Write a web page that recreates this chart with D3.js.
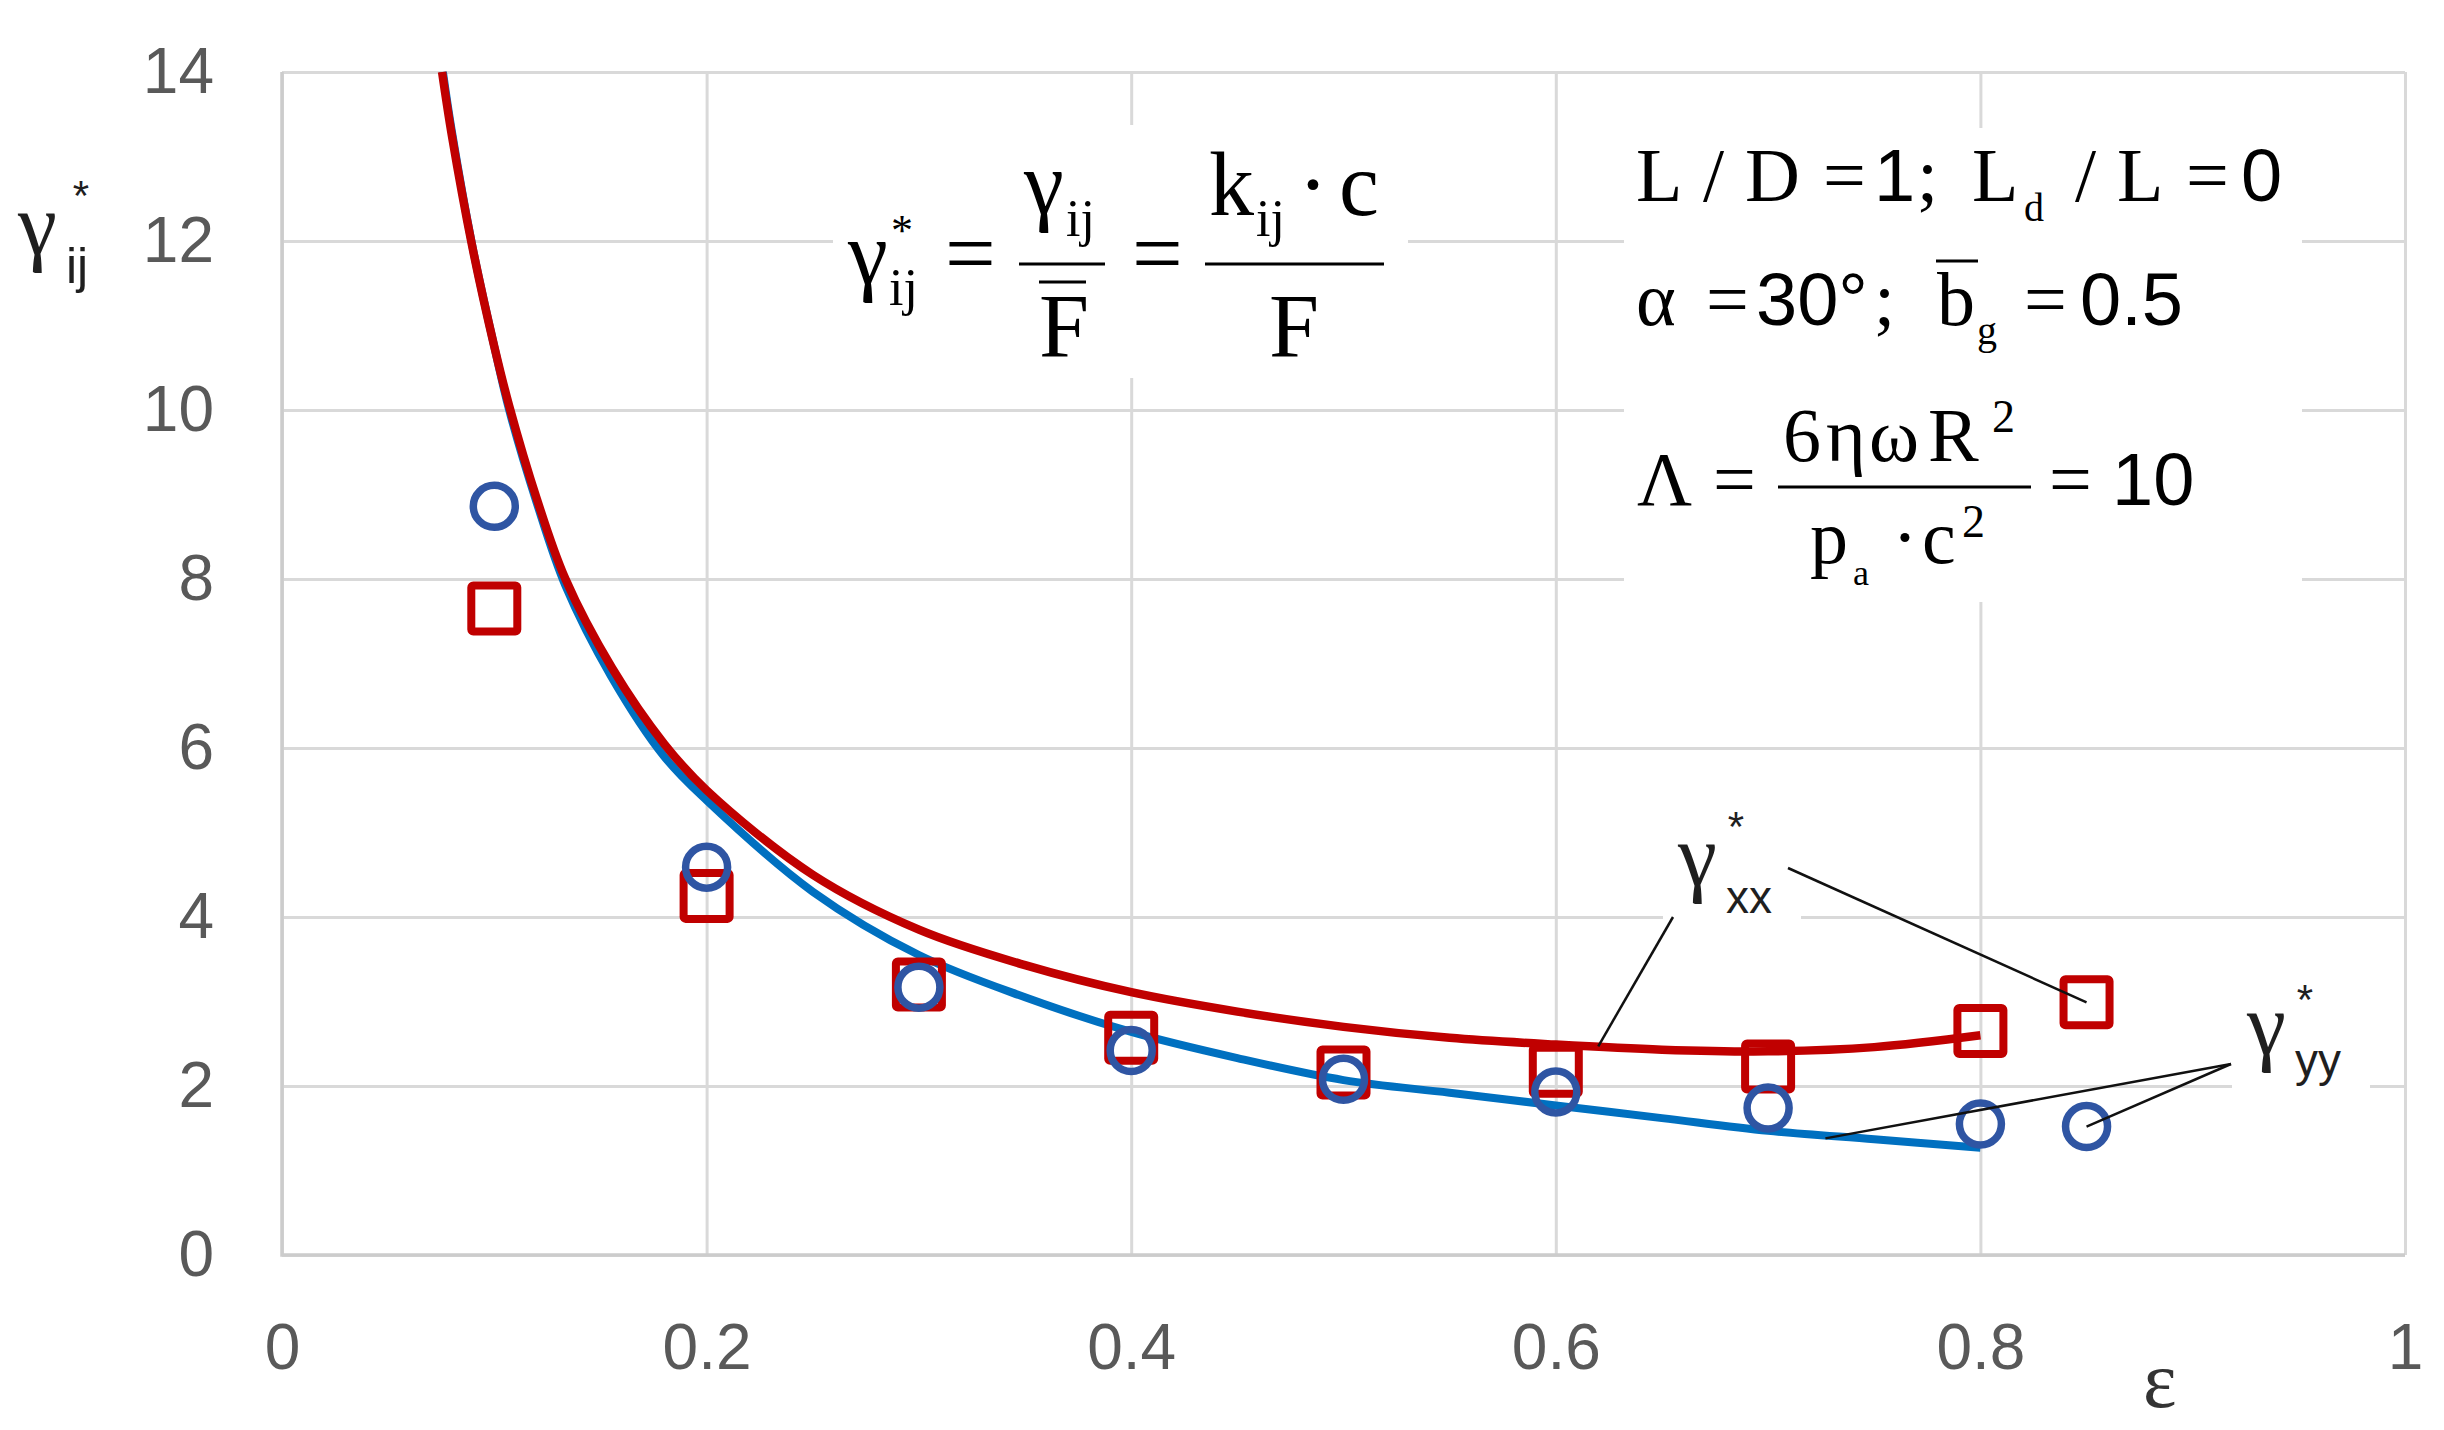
<!DOCTYPE html>
<html>
<head>
<meta charset="utf-8">
<script src="https://cdn.jsdelivr.net/npm/d3@7"></script>
<style>
  body { margin: 0; background: #fff; }
  svg { display: block; }
</style>
</head>
<body>
<script>
var width = 2444,
    height = 1430,
    margin = {top: 72, right: 39, bottom: 175, left: 282};

// axis ticks
var xTicks = [0, 0.2, 0.4, 0.6, 0.8, 1];
var yTicks = [0, 2, 4, 6, 8, 10, 12, 14];

// experiment points
var epsExp = [0.1, 0.2, 0.3, 0.4, 0.5, 0.6, 0.7, 0.8, 0.85];
var gxxExp = [7.65, 4.25, 3.2, 2.57, 2.16, 2.18, 2.23, 2.65, 2.99];
var gyyExp = [8.86, 4.59, 3.17, 2.42, 2.08, 1.93, 1.74, 1.55, 1.52];

// calculated curves
var epsXX = [0.0754, 0.08, 0.0895, 0.1, 0.107, 0.12, 0.1335, 0.1554, 0.18, 0.2, 0.25, 0.3,
             0.35, 0.4, 0.45, 0.5, 0.55, 0.6, 0.65, 0.7, 0.75, 0.8];
var gxxCalc = [14, 13.25, 11.95, 10.75, 10.05, 8.95, 8.0, 6.95, 6.05, 5.5, 4.5, 3.85,
               3.43, 3.11, 2.88, 2.70, 2.57, 2.49, 2.43, 2.41, 2.46, 2.6];
var epsYY = [0.0758, 0.08, 0.09, 0.1, 0.107, 0.12, 0.1335, 0.155, 0.18, 0.2, 0.25, 0.3,
             0.35, 0.4, 0.45, 0.5, 0.55, 0.6, 0.65, 0.7, 0.75, 0.8];
var gyyCalc = [14, 13.3, 11.9, 10.75, 10.0, 8.9, 7.92, 6.85, 5.9, 5.38, 4.3, 3.55,
               3.05, 2.64, 2.33, 2.07, 1.92, 1.77, 1.62, 1.47, 1.37, 1.27];

var RED = "#c00000", BLUE = "#0070c0", CIRC = "#2f55a3", GRID = "#d9d9d9";
var SERIF = "'Liberation Serif', 'Times New Roman', serif",
    SANS = "'Liberation Sans', Arial, sans-serif";

var svg = d3.select("body")
  .append("svg")
  .attr("width", width)
  .attr("height", height);

svg.append("rect").attr("width", width).attr("height", height).attr("fill", "#fff");

var x = d3.scaleLinear().domain([0, 1]).range([margin.left, width - margin.right]);
var y = d3.scaleLinear().domain([0, 14]).range([height - margin.bottom, margin.top]);
var plotW = width - margin.left - margin.right,
    plotH = height - margin.top - margin.bottom;

// grid + tick labels
var gx = svg.append("g")
  .attr("transform", "translate(0," + (height - margin.bottom) + ")")
  .call(d3.axisBottom(x).tickValues(xTicks).tickSize(-plotH).tickPadding(69)
    .tickFormat(function(d) { return String(d); }));
var gy = svg.append("g")
  .attr("transform", "translate(" + margin.left + ",0)")
  .call(d3.axisLeft(y).tickValues(yTicks).tickSize(-plotW).tickPadding(68)
    .tickFormat(function(d) { return String(d); }));

[gx, gy].forEach(function(g) {
  g.select(".domain").remove();
  g.selectAll(".tick line").attr("stroke", GRID).attr("stroke-width", 3);
  g.selectAll(".tick text")
    .attr("fill", "#595959")
    .attr("font-family", SANS)
    .attr("font-size", 64);
});

// plot border (left + bottom axis lines)
svg.append("path")
  .attr("d", "M" + x(0) + "," + y(14) + "V" + y(0) + "H" + x(1))
  .attr("fill", "none")
  .attr("stroke", "#cccccc")
  .attr("stroke-width", 3.5);

// curves
var line = d3.line()
  .x(function(d) { return x(d[0]); })
  .y(function(d) { return y(d[1]); })
  .curve(d3.curveCatmullRom.alpha(0.5));

svg.append("path")
  .datum(d3.zip(epsYY, gyyCalc))
  .attr("d", line)
  .attr("fill", "none")
  .attr("stroke", BLUE)
  .attr("stroke-width", 8);

svg.append("path")
  .datum(d3.zip(epsXX, gxxCalc))
  .attr("d", line)
  .attr("fill", "none")
  .attr("stroke", RED)
  .attr("stroke-width", 8.5);

// markers
var side = 46;
svg.append("g")
  .selectAll("rect")
  .data(d3.zip(epsExp, gxxExp))
  .enter().append("rect")
    .attr("x", function(d) { return x(d[0]) - side / 2; })
    .attr("y", function(d) { return y(d[1]) - side / 2; })
    .attr("width", side)
    .attr("height", side)
    .attr("rx", 2)
    .attr("fill", "none")
    .attr("stroke", RED)
    .attr("stroke-width", 8);

svg.append("g")
  .selectAll("circle")
  .data(d3.zip(epsExp, gyyExp))
  .enter().append("circle")
    .attr("cx", function(d) { return x(d[0]); })
    .attr("cy", function(d) { return y(d[1]); })
    .attr("r", 21)
    .attr("fill", "none")
    .attr("stroke", CIRC)
    .attr("stroke-width", 7.5);

// text helpers
function txt(g, s, px, py, size, family, anchor, fill) {
  return g.append("text")
    .attr("x", px).attr("y", py)
    .attr("font-size", size)
    .attr("font-family", family)
    .attr("text-anchor", anchor || "start")
    .attr("fill", fill || "#000")
    .text(s);
}
function bar(g, x1, x2, py, w) {
  g.append("line")
    .attr("x1", x1).attr("x2", x2).attr("y1", py).attr("y2", py)
    .attr("stroke", "#000").attr("stroke-width", w || 3);
}
function box(g, x1, y1, x2, y2) {
  g.append("rect").attr("x", x1).attr("y", y1)
    .attr("width", x2 - x1).attr("height", y2 - y1).attr("fill", "#fff");
}

// axis titles
var ink = "#1f1f1f";
var ax = svg.append("g");
txt(ax, "γ", 18, 254, 88, SERIF, "start", ink);
txt(ax, "ij", 66, 283, 50, SANS, "start", ink);
txt(ax, "*", 81, 210, 42, SANS, "middle", ink);
txt(ax, "ε", 2143, 1407, 80, SERIF, "start", "#333");

// formula 1
var f1 = svg.append("g");
box(f1, 833, 125, 1408, 378);
txt(f1, "γ", 848, 284, 90, SERIF);
txt(f1, "ij", 889, 305, 52, SERIF);
txt(f1, "*", 902, 245, 44, SERIF, "middle");
txt(f1, "=", 945, 284, 90, SERIF);
bar(f1, 1019, 1105, 264);
txt(f1, "γ", 1024, 214, 90, SERIF);
txt(f1, "ij", 1066, 236, 52, SERIF);
bar(f1, 1039, 1086, 282);
txt(f1, "F", 1039, 357, 90, SERIF);
txt(f1, "=", 1132, 284, 90, SERIF);
bar(f1, 1205, 1384, 264);
txt(f1, "k", 1209, 215, 90, SERIF);
txt(f1, "ij", 1256, 236, 52, SERIF);
txt(f1, "·", 1313, 215, 90, SERIF, "middle");
txt(f1, "c", 1339, 215, 90, SERIF);
txt(f1, "F", 1269, 357, 90, SERIF);

// formula 2 (parameters)
var f2 = svg.append("g");
box(f2, 1624, 128, 2302, 602);
var fs = 76, ds = 74, ss = 40;
txt(f2, "L", 1636, 201, fs, SERIF);
txt(f2, "/", 1703, 201, fs, SERIF);
txt(f2, "D", 1745, 201, fs, SERIF);
txt(f2, "=", 1823, 201, fs, SERIF);
txt(f2, "1", 1874, 201, ds, SANS);
txt(f2, ";", 1917, 201, fs, SERIF);
txt(f2, "L", 1972, 201, fs, SERIF);
txt(f2, "d", 2024, 221, ss, SERIF);
txt(f2, "/", 2075, 201, fs, SERIF);
txt(f2, "L", 2117, 201, fs, SERIF);
txt(f2, "=", 2186, 201, fs, SERIF);
txt(f2, "0", 2241, 201, ds, SANS);

txt(f2, "α", 1636, 325, fs, SERIF);
txt(f2, "=", 1706, 325, fs, SERIF);
txt(f2, "30°", 1756, 325, ds, SANS);
txt(f2, ";", 1874, 325, fs, SERIF);
txt(f2, "b", 1937, 325, fs, SERIF);
bar(f2, 1936, 1978, 261);
txt(f2, "g", 1977, 344, ss, SERIF);
txt(f2, "=", 2024, 325, fs, SERIF);
txt(f2, "0.5", 2080, 325, ds, SANS);

txt(f2, "Λ", 1637, 505, fs, SERIF);
txt(f2, "=", 1713, 505, fs, SERIF);
bar(f2, 1778, 2031, 487);
txt(f2, "6", 1783, 461, fs, SERIF);
txt(f2, "η", 1826, 461, fs, SERIF);
txt(f2, "ω", 1869, 461, fs, SERIF);
txt(f2, "R", 1928, 461, fs, SERIF);
txt(f2, "2", 1992, 432, 46, SERIF);
txt(f2, "p", 1810, 563, fs, SERIF);
txt(f2, "a", 1853, 585, 36, SERIF);
txt(f2, "·", 1905, 563, fs, SERIF, "middle");
txt(f2, "c", 1922, 563, fs, SERIF);
txt(f2, "2", 1962, 537, 46, SERIF);
txt(f2, "=", 2049, 505, fs, SERIF);
txt(f2, "10", 2112, 505, ds, SANS);

// series labels with leader lines
var lab = svg.append("g");
var leaders = [
  [[1788, 868], [x(epsExp[8]), y(gxxExp[8])]],
  [[1673, 917], [x(0.62), y(2.47)]],
  [[2231, 1064], [x(0.727), y(1.38)]],
  [[2231, 1064], [x(epsExp[8]), y(gyyExp[8])]]
];
box(lab, 1663, 800, 1801, 935);
box(lab, 2232, 975, 2370, 1100);
leaders.forEach(function(l) {
  lab.append("line")
    .attr("x1", l[0][0]).attr("y1", l[0][1])
    .attr("x2", l[1][0]).attr("y2", l[1][1])
    .attr("stroke", "#111").attr("stroke-width", 2.5);
});
txt(lab, "γ", 1678, 885, 88, SERIF, "start", ink);
txt(lab, "xx", 1726, 913, 46, SANS, "start", ink);
txt(lab, "*", 1736, 841, 42, SANS, "middle", ink);
txt(lab, "γ", 2247, 1054, 88, SERIF, "start", ink);
txt(lab, "yy", 2295, 1076, 46, SANS, "start", ink);
txt(lab, "*", 2305, 1014, 42, SANS, "middle", ink);
</script>
</body>
</html>
